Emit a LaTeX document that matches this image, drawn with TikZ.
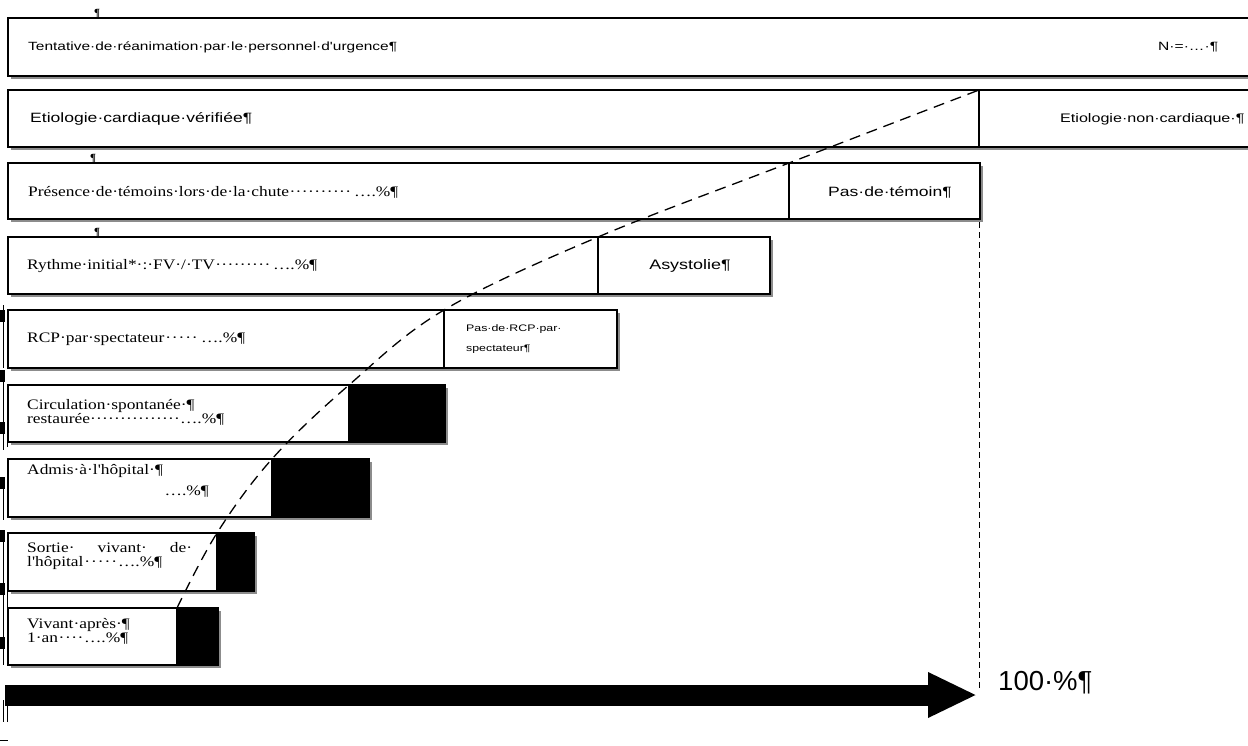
\documentclass[tikz,border=0pt]{standalone}
\usepackage{fontspec}
\setmainfont{Liberation Serif}
\newfontfamily\sansf{Liberation Sans}
\newfontfamily\sansw[FakeStretch=1.3]{Liberation Sans}
\newfontfamily\rmw[FakeStretch=1.2]{Liberation Serif}
\usetikzlibrary{calc,arrows.meta}
\newcommand\rowbox[4]{%
  \fill[shadowfill] (#1+3,#2+3) rectangle (#3+3,#4+3);
  \filldraw[boxline] (#1,#2) rectangle (#3,#4);}
\newcommand\ldr[3]{\hbox to #1{#2\xleaders\hbox{·}\hfill #3}}
\begin{document}
\begin{tikzpicture}[x=1pt,y=-1pt,
  sw/.style={font=\sansw\fontsize{13.5}{16}\selectfont, anchor=west, inner sep=0pt, align=left},
  rm/.style={font=\rmw\fontsize{14.5}{14}\selectfont, anchor=west, inner sep=0pt, align=left},
  boxline/.style={draw=black, line width=1.2pt, fill=white},
  shadowfill/.style={fill=black!45},
  blk/.style={fill=black, draw=black, line width=1.2pt},
  divider/.style={draw=black, line width=1.2pt},
  pil/.style={font=\fontsize{11}{11}\selectfont\bfseries, inner sep=0pt},
  pmark/.style={fill=black},
  edgeline/.style={draw=black, line width=0.8pt},
  curve/.style={draw=black, line width=1.3pt, dash pattern=on 11pt off 7pt},
  vdash/.style={draw=black, line width=1pt, dash pattern=on 6pt off 4pt}
]
\useasboundingbox (0,0) rectangle (1248,745);
\fill[white] (0,0) rectangle (1248,745);

% formatting-mark artefacts
\node[pil] (p1) at (97,14) {¶};
\node[pil] (p2) at (93,159) {¶};
\node[pil] (p3) at (97,233) {¶};
\foreach \yy in {310,370,422,477,530,583,637}
  \fill[pmark] (0,\yy) rectangle (5,\yy+12);
\draw[edgeline] (3,305) -- (3,368);
\draw[edgeline] (3,370) -- (3,450);
\draw[edgeline] (7,387) -- (7,447);
\draw[edgeline] (3,477) -- (3,520);
\draw[edgeline] (3,530) -- (3,665);
\draw[edgeline] (7,592) -- (7,608);
\draw[edgeline] (3,700) -- (3,722);
\draw[edgeline] (7,700) -- (7,722);
\draw[line width=1pt] (0,740) -- (8,740);

% rows
\rowbox{8}{18}{1262}{76}
\rowbox{8}{90}{1262}{147}
\draw[divider] (979,90) -- (979,147);
\rowbox{8}{163}{980}{219}
\draw[divider] (789,163) -- (789,219);
\rowbox{8}{237}{770}{294}
\draw[divider] (598,237) -- (598,294);
\rowbox{8}{310}{617}{368}
\draw[divider] (444,310) -- (444,368);
\rowbox{8}{385}{445}{442}
\filldraw[blk] (349,385) rectangle (445,442);
\rowbox{8}{459}{369}{517}
\filldraw[blk] (272,459) rectangle (369,517);
\rowbox{8}{533}{254}{591}
\filldraw[blk] (217,533) rectangle (254,591);
\rowbox{8}{608}{218}{665}
\filldraw[blk] (177,608) rectangle (218,665);

% texts
\node[sw, font=\sansw\fontsize{11.9}{15}\selectfont] (t1) at (28,47) {Tentative·de·réanimation·par·le·personnel·d'urgence¶};
\node[sw, font=\sansw\fontsize{12}{15}\selectfont] (n1) at (1158,47) {N·=·…·¶};
\node[sw] (t2) at (30,119) {Etiologie·cardiaque·vérifiée¶};
\node[sw, font=\sansw\fontsize{12.4}{15}\selectfont] (t2b) at (1060,119) {Etiologie·non·cardiaque·¶};
\node[rm] (t3) at (28,192) {\ldr{370pt}{Présence·de·témoins·lors·de·la·chute}{\,….\%¶}};
\node[sw, anchor=center] (t3b) at (890,192) {Pas·de·témoin¶};
\node[rm] (t4) at (27,266) {\ldr{290pt}{Rythme·initial*·:·FV·/·TV}{\,….\%¶}};
\node[sw, anchor=center, font=\sansw\fontsize{13.8}{16}\selectfont] (t4b) at (690,266) {Asystolie¶};
\node[rm] (t5) at (27,339) {\ldr{218pt}{RCP·par·spectateur}{\,….\%¶}};
\node[sw, font=\sansw\fontsize{9.5}{20}\selectfont] (t5b) at (466,339) {Pas·de·RCP·par·\\spectateur¶};
\node[rm] (t6) at (27,412) {Circulation·spontanée·¶\\\ldr{197pt}{restaurée}{….\%¶}};
\node[rm] (t7) at (27,471) {Admis·à·l'hôpital·¶};
\node[rm, anchor=east] (t7b) at (209,492) {….\%¶};
\node[rm] (t8) at (27,556) {\makebox[165pt][s]{Sortie·\hfill vivant·\hfill de·}\\\ldr{135pt}{l'hôpital}{….\%¶}};
\node[rm] (t9) at (27,631) {Vivant·après·¶\\\ldr{101pt}{1·an}{….\%¶}};
\node[font=\sansf\fontsize{27.5}{30}\selectfont, anchor=west, inner sep=0pt] (pct) at (998,683) {100·\%¶};

% dashed guide lines
\coordinate (c1) at (177,608);
\coordinate (c2) at (217,533);
\coordinate (c3) at (272,459);
\coordinate (c4) at (349,385);
\coordinate (c5) at (444,310);
\coordinate (c6) at (598,237);
\coordinate (c7) at (789,163);
\coordinate (c8) at (979,90);
\draw[curve] plot[smooth, tension=0.6] coordinates {(c1) (c2) (c3) (c4) (c5) (c6) (c7) (c8)};
\coordinate (v1) at (979,222);
\coordinate (v2) at (979,690);
\draw[vdash] (v1) -- (v2);

% axis arrow
\coordinate (axS) at (5,695);
\coordinate (axE) at (977,695);
\draw[line width=21pt, -{Triangle[length=49pt,width=42pt]}] (axS) -- (axE);
\end{tikzpicture}
\end{document}
